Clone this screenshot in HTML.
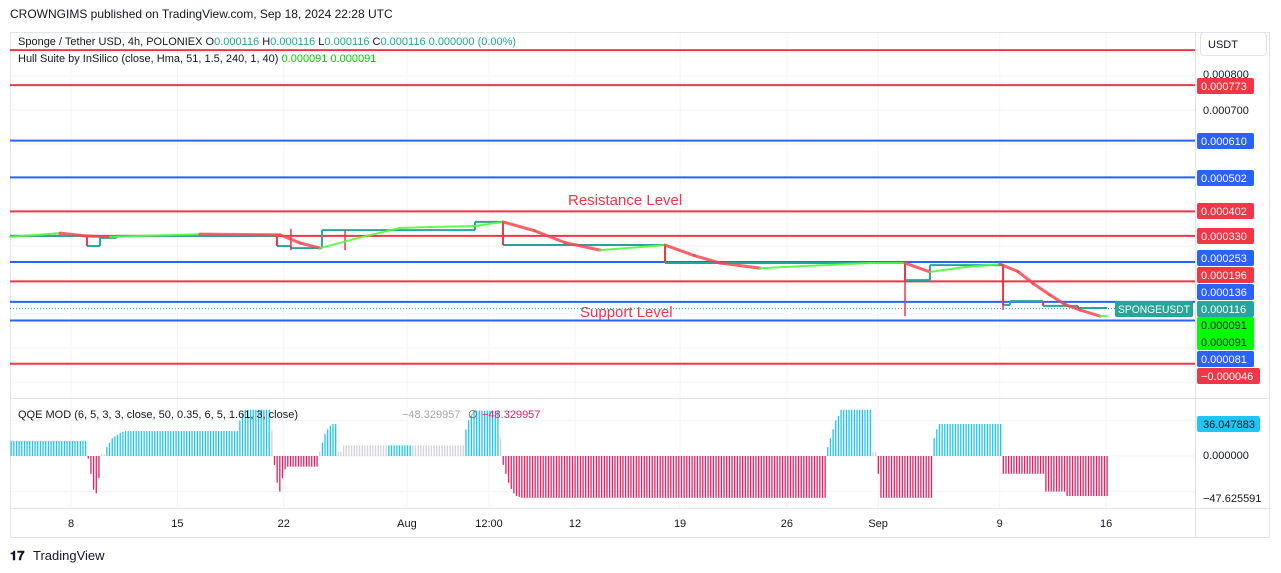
<!DOCTYPE html>
<html><head><meta charset="utf-8"><style>
body{margin:0;background:#fff;font-family:"Liberation Sans",sans-serif;}
svg{display:block}
</style></head><body>
<svg id="c" width="1281" height="573" xmlns="http://www.w3.org/2000/svg" font-family="Liberation Sans, sans-serif">
<text x="10" y="18" font-size="12" fill="#131722">CROWNGIMS published on TradingView.com, Sep 18, 2024 22:28 UTC</text>
<rect x="10.5" y="32.5" width="1259" height="505" fill="none" stroke="#e0e3eb"/>
<g id="grid"></g>
<g id="levels"></g>
<g id="price"></g>
<g id="hull"></g>
<g id="qqe"></g>
<line x1="10" y1="398.5" x2="1270" y2="398.5" stroke="#e0e3eb"/>
<line x1="10" y1="508.5" x2="1270" y2="508.5" stroke="#e0e3eb"/>
<line x1="1195.5" y1="32" x2="1195.5" y2="538" stroke="#e0e3eb"/>
<text x="568" y="205" font-size="15" fill="#f23645">Resistance Level</text>
<text x="580" y="317" font-size="15" fill="#f23645">Support Level</text>
<g font-size="11">
<text x="18" y="45" fill="#131722">Sponge / Tether USD, 4h, POLONIEX  <tspan fill="#131722">O</tspan><tspan fill="#26a69a">0.000116</tspan>  H<tspan fill="#26a69a">0.000116</tspan>  L<tspan fill="#26a69a">0.000116</tspan>  C<tspan fill="#26a69a">0.000116</tspan>  <tspan fill="#26a69a">0.000000 (0.00%)</tspan></text>
<text x="18" y="62" fill="#131722">Hull Suite by InSilico (close, Hma, 51, 1.5, 240, 1, 40)  <tspan fill="#00d000">0.000091</tspan>  <tspan fill="#00d000">0.000091</tspan></text>
<text x="18" y="418" fill="#131722">QQE MOD (6, 5, 3, 3, close, 50, 0.35, 6, 5, 1.61, 3, close)</text>
<text x="402" y="418" fill="#a3a6af">−48.329957</text>
<text x="468" y="418" fill="#555">∅</text>
<text x="482" y="418" fill="#e91e63">−48.329957</text>
</g>
<rect x="1200.5" y="32.5" width="66" height="23" rx="4" fill="#fff" stroke="#e0e3eb"/>
<text x="1208" y="48" font-size="11" fill="#131722">USDT</text>
<g id="axis" font-size="11"></g>
<rect x="1115" y="301" width="78" height="16" rx="2" fill="#26a69a"/>
<text x="1118" y="313" font-size="11" fill="#fff" textLength="72" lengthAdjust="spacingAndGlyphs">SPONGEUSDT</text>
<g>
<text x="10" y="560" font-size="13" font-weight="bold" fill="#131722">𝟏𝟕</text>
<text x="33" y="560" font-size="13" fill="#131722">TradingView</text>
</g>
</svg>
<script>
// ---- data ----
const tickLabels = ["8","15","22","Aug","12:00","12","19","26","Sep","9","16"];
const tickT = [8,15,22,30.1,35.5,41.16,48.07,55.1,61.1,69.1,76.1];
const levelPrices = [0.000876,0.000773,0.000610,0.000502,0.000402,0.000330,0.000253,0.000196,0.000136,0.000081,-0.000046];
const levelColors = ["r","r","b","b","r","r","b","r","b","b","r"];
const hullT = [3.99,7.28,8.92,10.57,16.49,21.75,23.07,24.38,27,29.64,31.62,34.58,36.42,38.5,40.5,42.8,45.43,47.08,49,50.7,53.33,57,60.57,62.87,64.51,66.8,69.12,70.3,71.3,72.41,73.4,74.38,75.7,76.16];
const hullP = [0.000327,0.000338,0.000330,0.000327,0.000335,0.000333,0.000309,0.000294,0.000325,0.000353,0.000356,0.000359,0.000371,0.000345,0.000310,0.000288,0.000297,0.000303,0.000272,0.000250,0.000235,0.000243,0.000250,0.000250,0.000224,0.000238,0.000247,0.000225,0.000190,0.000156,0.000128,0.000112,0.000094,0.000094];
const stepT = [3.99,9.05,9.91,11.0,21.55,22.47,24.51,34.58,36.42,47.08,62.87,64.51,69.32,69.78,71.95,74.25];
const stepP = [0.000330,0.000300,0.000324,0.000330,0.000300,0.000294,0.000347,0.000371,0.000303,0.000250,0.000200,0.000244,0.000127,0.000138,0.000124,0.000118];
const stepEndT = 76.16;
const wickT = [22.47,26.03,62.87,69.32];
const wickHi = [0.000350,0.000347,0.000250,0.000247];
const wickLo = [0.000288,0.000288,0.000094,0.000112];
const lastPrice = 0.000116;
// QQE runs: [bar count, value, color]
const qqeCounts = [29, 1,1,1,1,1, 2, 1,1,1,1,1,1,1,2, 41, 1,1,10, 1, 1,1,1,1,1,12, 1, 1,1,1,1,2, 2, 17, 9, 20, 1,1,1,10, 1, 1,1,1,1,1,1,1,115, 1,1,1,1,1,12, 2, 1,20, 1,1,24, 16,8,16];
const qqeValues = [17, -3,-20,-38,-42,-25, 2, 10,15,20,22,24,26,27,28, 28, 40,48,52, 30, -10,-30,-40,-25,-15,-12, 5, 15,25,30,34,36, 5, 12, 12, 12, 30,40,45,51, 20, -10,-20,-30,-37,-42,-45,-46,-47, 10,20,30,40,45,52, 5, -20,-47, 20,30,36, -20,-40,-45];
const qqeColors = ["b", "r","r","r","r","r", "g", "b","b","b","b","b","b","b","b", "b", "b","b","b", "g", "r","r","r","r","r","r", "g", "b","b","b","b","b", "g", "g", "b", "g", "b","b","b","b", "g", "r","r","r","r","r","r","r","r", "b","b","b","b","b","b", "g", "r","r", "b","b","b", "r","r","r"];
const qqeTicks = [36.047883,0,-47.625591];

// ---- scales ----
const X = t => 71 + (t-8)*15.2;
const Y = p => 110 + (0.0007-p)/2.94e-6;
const QY = v => 456 - v*0.89;
const NS = "http://www.w3.org/2000/svg";
function mk(tag, parent, attrs){const e=document.createElementNS(NS,tag);for(const k in attrs)e.setAttribute(k,attrs[k]);parent.appendChild(e);return e;}
const QCOL = {r:"#e91e63", b:"#1ec6f4", g:"#d1d4dc"};

// grid
const grid = document.getElementById('grid');
tickT.forEach(t=>{const l=mk('line',grid,{x1:X(t),x2:X(t),y1:33,y2:508,stroke:'#f0f3fa'});

});
[0.0008,0.0007,0.0006,0.0005,0.0004,0.0003,0.0002,0.0001,0,-0.0001].forEach(p=>{const l=mk('line',grid,{x1:10,x2:1195,y1:Y(p),y2:Y(p),stroke:'#f0f3fa'});

});
[40,0,-40].forEach(v=>{const l=mk('line',grid,{x1:10,x2:1195,y1:QY(v),y2:QY(v),stroke:'#f0f3fa'});

});

// levels
const lv = document.getElementById('levels');
levelPrices.forEach((p,i)=>{const l=mk('line',lv,{x1:10,x2:1195,y1:Y(p),y2:Y(p),stroke:levelColors[i]==='r'?'#f23645':'#2962ff','stroke-width':2});

});
const dl = mk('line',lv,{x1:10,x2:1195,y1:Y(lastPrice),y2:Y(lastPrice),stroke:'#26a69a','stroke-dasharray':'1 2'});



// price step series
const pr = document.getElementById('price');
for(let i=0;i<stepT.length;i++){
  const xe = i<stepT.length-1 ? stepT[i+1] : stepEndT;
  const h = mk('line',pr,{x1:X(stepT[i]),x2:X(xe),y1:Y(stepP[i]),y2:Y(stepP[i]),stroke:'#26a69a','stroke-width':2});
  
  
  if(i>0){const up=stepP[i]>stepP[i-1];
    const v=mk('line',pr,{x1:X(stepT[i]),x2:X(stepT[i]),y1:Y(stepP[i-1]),y2:Y(stepP[i]),stroke:up?'#26a69a':'#f23645','stroke-width':2});
    
    }
}
wickT.forEach((t,i)=>{const w=mk('line',pr,{x1:X(t),x2:X(t),y1:Y(wickHi[i]),y2:Y(wickLo[i]),stroke:'#f23645','stroke-width':1.5});

});

// hull
const hg = document.getElementById('hull');
for(let i=1;i<hullT.length;i++){
  const up = hullP[i]>=hullP[i-1];
  const s=mk('line',hg,{x1:X(hullT[i-1]),x2:X(hullT[i]),y1:Y(hullP[i-1]),y2:Y(hullP[i]),stroke:up?'#4cff3c':'#f5484f','stroke-width':up?2:3,'stroke-linecap':'round','stroke-opacity':up?0.9:0.85});
  
  
}

// qqe
const qg = document.getElementById('qqe');
let bi=0; const sp=2.66;
qqeCounts.forEach((n,k)=>{for(let j=0;j<n;j++){const x=10.5+bi*sp;const v=qqeValues[k];
  const y1=Math.min(QY(0),QY(v)), h=Math.max(1,Math.abs(QY(v)-QY(0)));
  const r=mk('rect',qg,{x:x,y:y1,width:1.3,height:h,fill:QCOL[qqeColors[k]]});
  
  
  bi++;}});

// axes
const ax = document.getElementById('axis');
tickT.forEach((t,i)=>{const tx=mk('text',ax,{x:X(t),y:527,'text-anchor':'middle',fill:'#131722'});tx.textContent=tickLabels[i];

});
[[0.0008,78],[0.0007,114]].forEach(a=>{const tx=mk('text',ax,{x:1203,y:a[1],fill:'#131722'});tx.textContent=a[0].toFixed(6);

});
const labs=[[1,86],[2,141],[3,178],[4,211],[5,236],[6,258],[7,275],[8,292],[9,359],[10,376]];
labs.forEach(a=>{const i=a[0];const c=levelColors[i]==='r'?'#f23645':'#2962ff';
  const w=levelPrices[i]<0?63:57;
  const r=mk('rect',ax,{x:1197,y:a[1]-8,width:w,height:16,rx:2,fill:c});
  
  
  const t=mk('text',ax,{x:1201,y:a[1]+4,fill:'#fff'});t.textContent=(levelPrices[i]<0?'−':'')+Math.abs(levelPrices[i]).toFixed(6);
  
  });
const lp=mk('rect',ax,{x:1197,y:301,width:57,height:16,rx:2,fill:'#26a69a'});


const lpt=mk('text',ax,{x:1201,y:313,fill:'#fff'});lpt.textContent=lastPrice.toFixed(6);


const hb=mk('rect',ax,{x:1197,y:317,width:57,height:33,rx:2,fill:'#00ff00'});


[329,346].forEach(y=>{const t=mk('text',ax,{x:1201,y:y,fill:'#131722'});t.textContent='0.000091';

});
const qb=mk('rect',ax,{x:1197,y:416,width:63,height:16,rx:2,fill:'#1ec6f4'});


const q1=mk('text',ax,{x:1203,y:428,fill:'#131722'});q1.textContent=qqeTicks[0].toFixed(6);


const q2=mk('text',ax,{x:1203,y:459,fill:'#131722'});q2.textContent=qqeTicks[1].toFixed(6);


const q3=mk('text',ax,{x:1203,y:502,fill:'#131722'});q3.textContent='−'+Math.abs(qqeTicks[2]).toFixed(6);


</script>
</body></html>
